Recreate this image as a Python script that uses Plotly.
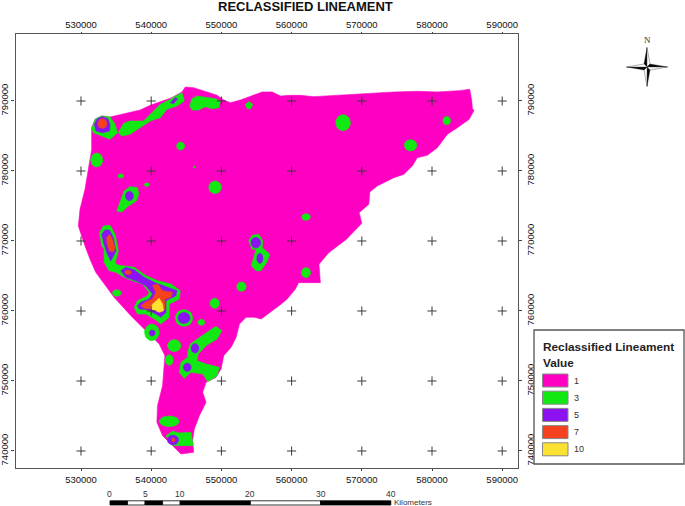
import numpy as np
import plotly.graph_objects as go

W, H = 685, 506
TITLE = "RECLASSIFIED LINEAMENT"
LEGEND_TITLE = "Reclassified Lineament"
LEGEND_SUB = "Value"
CLASS_LABELS = ["1", "3", "5", "7", "10"]
CLASS_COLORS = ["#ff00c3", "#12e812", "#8c12f2", "#f4411e", "#fde130"]
EAST_TICKS = [530000, 540000, 550000, 560000, 570000, 580000, 590000]
NORTH_TICKS = [740000, 750000, 760000, 770000, 780000, 790000]
SCALE_KM = [0, 2.5, 5, 7.5, 10, 20, 30, 40]
SCALE_LABELS = [0, 5, 10, 20, 30, 40]

# Polygons: (easting km, northing km)
OUTLINE = [(531.52,785.71),(531.52,786.19),(532.0,787.38),(532.95,787.86),(534.14,787.71),(534.86,787.86),(536.52,788.24),(538.43,788.71),(539.86,789.38),(541.29,789.86),(542.95,790.48),(544.38,791.29),(544.86,792.0),(546.05,791.9),(547.48,791.43),(549.38,790.81),(550.33,790.14),(551.29,789.76),(552.71,790.14),(554.38,790.81),(555.81,791.29),(557.24,791.29),(558.43,790.71),(559.81,790.81),(561.24,790.81),(563.14,790.62),(566.0,790.81),(568.86,791.0),(571.71,791.19),(574.57,791.29),(577.9,791.38),(580.76,791.29),(583.86,791.48),(585.38,791.67),(585.67,790.0),(585.76,788.81),(586.0,788.71),(585.29,787.38),(583.62,786.19),(582.19,785.24),(580.76,783.33),(579.33,782.24),(577.9,781.9),(577.19,780.71),(576.0,779.52),(574.57,779.05),(572.19,777.86),(571.14,777.0),(571.0,775.24),(569.62,774.05),(570.0,772.52),(567.81,770.24),(565.29,768.33),(563.9,766.67),(564.1,764.05),(561.0,764.05),(560.52,763.1),(559.33,761.67),(558.52,761.0),(555.67,758.86),(554.71,759.1),(553.52,759.1),(552.57,758.14),(552.1,756.24),(551.38,754.81),(550.33,753.62),(549.95,751.71),(549.24,750.52),(547.81,749.81),(547.33,748.38),(547.81,746.95),(546.86,745.05),(546.14,743.14),(545.9,741.48),(546.05,739.81),(544.24,739.57),(543.05,740.76),(541.62,742.19),(540.81,744.1),(540.9,746.48),(541.62,749.33),(541.95,753.62),(541.14,755.29),(539.24,757.19),(537.1,759.33),(534.71,761.95),(533.29,763.86),(532.1,765.52),(531.29,767.38),(530.57,769.29),(529.62,772.14),(529.86,774.52),(530.57,777.38),(531.05,780.24),(531.52,783.1)]

GREEN_POLYS = [
    [(531.52,786.05),(532,787.38),(532.95,787.86),(534.14,787.71),(534.86,786.67),(535.19,785.48),(534.14,784.52),(532.95,785),(531.76,785.48)],
    [(535.33,785.48),(536.05,786.81),(537,787.14),(538.9,787.14),(540.1,788.33),(541.29,789.52),(542.71,790.24),(544.38,791.19),(544.71,790),(543.67,789.29),(542.24,788.81),(541.29,787.62),(539.86,787.14),(538.43,786.19),(537,785.24),(535.81,785)],
    [(545.48,789.29),(545.81,790.33),(546.52,790.71),(547.95,790.48),(549.14,790.33),(549.86,790),(549.62,789.05),(548.67,788.9),(547.71,789.19),(546.76,788.71),(545.81,788.71)],
    [(553.43,789.52),(553.9,789.9),(554.48,789.52),(554.14,788.9),(553.67,788.9)],
    [(535.1,774.29),(535.57,775.48),(536.14,777.14),(537,777.76),(538.05,777.62),(538.24,776.67),(537.86,775.71),(536.76,775),(535.81,774.14)],
    [(532.62,771.19),(533.19,772.14),(534.14,772.24),(534.86,770.95),(535.33,768.57),(534.86,766.9),(535.19,766.57),(537.57,766.24),(539.24,765.05),(540.9,764.33),(542.81,763.86),(544.14,762.9),(544,761.71),(542.57,761),(542.57,759.1),(541.38,758.14),(540.43,758.86),(539.24,759.57),(538.05,759.57),(537.57,760.52),(538.05,761.48),(539.48,762.19),(539.71,762.67),(538.76,763.86),(537.33,764.33),(536.14,764.81),(534.95,765.52),(534,765.76),(533.29,766.95),(533.29,768.86),(532.95,769.29)],
    [(545.19,754.1),(545.57,755.29),(547.1,756.38),(549.24,757.81),(550.05,757.19),(549.38,756),(547.81,755.05),(546.71,753.86),(546.52,752.9),(547.81,752.43),(549.71,751.95),(549.38,750.76),(548.05,749.9),(547.33,751),(545.67,751.24),(544.71,750.38),(544,751.24),(544.24,752.67),(545.19,753.38)],
    [(553.9,770),(554.38,770.81),(555.33,770.95),(555.9,770),(555.81,769.05),(556.9,768.1),(556.43,766.9),(555.57,765.71),(554.95,765.76),(554.24,766.48),(554.62,767.67),(554.95,768.86),(554.38,768.81)],
    [(542.1,742.19),(543.05,742.81),(544,742.57),(545.67,742.67),(546,740.76),(544,740.76),(543.05,740.76)],
]
# Round patches: (easting km, northing km, half width km, half height km)
GREEN_PATCHES = [(544.19,783.57,.57,.57),(532.24,781.57,.86,1.0),(535.67,779.29,.43,.29),(539.38,778.05,.38,.25),(546.14,780.57,.15,.15),(549.1,777.67,.9,.9),(567.33,786.9,1.05,1.15),(582.1,787.19,.55,.6),(576.95,783.67,.9,.8),(562.05,773.43,.62,.48),(562.05,765.48,.65,.72),(535.1,762.57,.62,.48),(552.86,763.48,.67,.67),(549.05,761.1,.67,.72),(547.14,758.38,.52,.43),(543.29,755.05,.95,.86),(542.57,753,.57,.76),(542.57,744.24,1.43,.76),(544.67,759,1.24,1.19),(540.1,756.95,1.05,1.19)]

PURPLE_POLYS = [
    [(531.9,786.67),(532.33,787.48),(533.05,787.76),(533.81,787.48),(534.14,786.67),(534.05,785.71),(533.05,785.48),(532.14,785.71)],
    [(542.71,789.76),(543.43,790.48),(543.76,790.33),(543.19,789.62)],
    [(532.95,770.95),(533.43,771.57),(534.05,771.57),(534.62,770.48),(535,768.57),(534.24,767.14),(533.76,768.1),(533.29,769.52)],
    [(535.67,765.76),(536.38,766.24),(537.57,765.9),(539,764.81),(540.43,764.1),(542.57,763.38),(543.67,762.9),(543.52,762.19),(542.1,761.48),(542.1,759.81),(541.38,759.1),(540.67,759.57),(539.48,760.19),(538.29,760.29),(538.05,760.76),(538.52,761.24),(539.71,761.71),(540.19,762.43),(539.24,763.62),(537.81,764.33),(536.38,764.81)],
]
PURPLE_PATCHES = [(536.9,776.43,.57,.67),(544.67,759,.86,.8),(540.14,756.86,.43,.43),(546.24,754.67,.55,.67),(545.14,751.95,.55,.6),(554.9,769.76,.7,.76),(555.48,767.52,.45,.72),(543.1,741.57,.8,.7)]

RED_POLYS = [
    [(532.38,786.76),(532.62,787.33),(533.05,787.48),(533.52,787.33),(533.71,786.76),(533.52,786.24),(533.05,786.1),(532.57,786.24)],
    [(533.67,770.48),(534.05,770.95),(534.38,770.48),(534.86,769.05),(534.62,768.43),(534.05,768.57),(533.67,769.86)],
    [(540.19,763.62),(540.9,763.86),(541.62,762.9),(543.05,762.67),(542.81,761.95),(541.95,761.71),(541.95,760.29),(541.38,759.81),(540.43,760.29),(539,760.38),(538.52,760.76),(539.24,761.33),(540.19,761.71),(540.67,762.67)],
]
RED_PATCHES = [(536.71,765.52,.48,.29),(543.14,741.57,.25,.3)]

YELLOW_POLYS = [
    [(541.14,761.81),(541.62,761),(541.76,760.05),(541.14,759.81),(540.67,760.05),(539.95,760.29),(540.19,761),(540.67,761.48)],
]

X_RANGE = [520670, 592250]
Y_RANGE = [737570, 799570]


def fx(p):
    return p / W


def fy(p):
    return 1 - p / H


def rings(polys, patches=()):
    xs, ys = [], []
    for poly in polys:
        xs += [p[0] * 1000 for p in poly] + [poly[0][0] * 1000, None]
        ys += [p[1] * 1000 for p in poly] + [poly[0][1] * 1000, None]
    angle = np.linspace(0, 2 * np.pi, 25)
    for e, n, rx, ry in patches:
        xs += list((e + rx * np.cos(angle)) * 1000) + [None]
        ys += list((n + ry * np.sin(angle)) * 1000) + [None]
    return xs, ys


fig = go.Figure()
layers = [([OUTLINE], ()), (GREEN_POLYS, GREEN_PATCHES), (PURPLE_POLYS, PURPLE_PATCHES), (RED_POLYS, RED_PATCHES), (YELLOW_POLYS, ())]
for (polys, patches), color, label in zip(layers, CLASS_COLORS, CLASS_LABELS):
    xs, ys = rings(polys, patches)
    fig.add_trace(go.Scatter(x=xs, y=ys, mode="lines", fill="toself", fillcolor=color, line=dict(width=0.6, color=color),
                             name=label, showlegend=False, hoverinfo="skip"))

gx, gy = np.meshgrid(EAST_TICKS, NORTH_TICKS)
fig.add_trace(go.Scatter(x=gx.ravel(), y=gy.ravel(), xaxis="x2", yaxis="y2", mode="markers", showlegend=False, hoverinfo="skip",
                         marker=dict(symbol="cross-thin", size=6.5, line=dict(width=1, color="#3a3a3a"), color="#3a3a3a")))

tick_font = dict(family="Liberation Sans", size=9.5, color="#111111")
axis_common = dict(showgrid=False, zeroline=False, showline=True, linecolor="#555555", linewidth=1.3,
                   ticks="outside", tickcolor="#444444", tickfont=tick_font, tickformat="d")
dom_x = [fx(15.5), fx(518)]
dom_y = [fy(468), fy(34)]

shapes, ann = [], []


def rect(x0, y0, x1, y1, fill, line="#888888", lw=1):
    shapes.append(dict(type="rect", xref="paper", yref="paper", x0=fx(x0), x1=fx(x1), y0=fy(y0), y1=fy(y1),
                       fillcolor=fill, line=dict(color=line, width=lw)))


def text(x, y, s, size, bold=False, anchor="left", color="#222222"):
    ann.append(dict(xref="paper", yref="paper", x=fx(x), y=fy(y), text=f"<b>{s}</b>" if bold else s, showarrow=False,
                    xanchor=anchor, yanchor="middle", font=dict(family="Liberation Sans", size=size, color=color)))


# legend panel
rect(534, 330, 684, 464, "white", "#555555", 1.3)
text(541, 347, LEGEND_TITLE, 11.8, True)
text(541, 363, LEGEND_SUB, 11.8, True)
for i, (lab, col) in enumerate(zip(CLASS_LABELS, CLASS_COLORS)):
    top = 374 + i * 17.2
    rect(542.5, top, 568, top + 13, col)
    text(572, top + 6.5, lab, 9, False, color="#333333")

# scale bar, placed in map units along the horizontal axis
SCALE_ORIGIN_E = 534130
for i in range(len(SCALE_KM) - 1):
    shapes.append(dict(type="rect", xref="x", yref="paper", x0=SCALE_ORIGIN_E + SCALE_KM[i] * 1000, x1=SCALE_ORIGIN_E + SCALE_KM[i + 1] * 1000,
                       y0=fy(505), y1=fy(500.8), fillcolor="#000000" if i % 2 == 0 else "#ffffff", line=dict(color="#000000", width=0.8)))
for km in SCALE_LABELS:
    ann.append(dict(xref="x", yref="paper", x=SCALE_ORIGIN_E + km * 1000, y=fy(493.5), text=str(km), showarrow=False, xanchor="center", yanchor="middle",
                    font=dict(family="Liberation Sans", size=8.5, color="#333333")))
text(391.5, 502, "Kilometers", 8, False, color="#333333")

# north arrow
CX, CY = 647, 67
ARM_V, ARM_H, WAIST = 19.5, 20.5, 3
arms = [((0, -ARM_V), (-WAIST, -WAIST), (WAIST, -WAIST)),
        ((ARM_H, 0), (WAIST, -WAIST), (WAIST, WAIST)),
        ((0, ARM_V), (WAIST, WAIST), (-WAIST, WAIST)),
        ((-ARM_H, 0), (-WAIST, WAIST), (-WAIST, -WAIST))]
for tip, dark, light in arms:
    for side, col in ((dark, "#000000"), (light, "#ffffff")):
        path = f"M {fx(CX)} {fy(CY)} L {fx(CX + tip[0])} {fy(CY + tip[1])} L {fx(CX + side[0])} {fy(CY + side[1])} Z"
        shapes.append(dict(type="path", xref="paper", yref="paper", path=path, fillcolor=col, line=dict(color="#333333", width=0.4)))
ann.append(dict(xref="paper", yref="paper", x=fx(647), y=fy(40), text="N", showarrow=False, xanchor="center", yanchor="middle",
                font=dict(family="Liberation Serif", size=9, color="#333333")))

text(305, 6, TITLE, 13, True, "center", "#111111")

fig.update_layout(
    width=W, height=H, margin=dict(l=0, r=0, t=0, b=0), paper_bgcolor="white", plot_bgcolor="white",
    xaxis=dict(domain=dom_x, range=X_RANGE, side="bottom", anchor="y", tickvals=EAST_TICKS, ticklen=2, **axis_common),
    xaxis2=dict(domain=dom_x, range=X_RANGE, side="top", anchor="y2", overlaying="x", tickvals=EAST_TICKS, ticklen=1, **axis_common),
    yaxis=dict(domain=dom_y, range=Y_RANGE, side="left", anchor="x", tickvals=NORTH_TICKS, tickangle=-90, ticklen=3, **axis_common),
    yaxis2=dict(domain=dom_y, range=Y_RANGE, side="right", anchor="x2", overlaying="y", tickvals=NORTH_TICKS, tickangle=-90, ticklen=3, **axis_common),
    shapes=shapes, annotations=ann, showlegend=False,
)
fig.write_html("out.html", config=dict(displayModeBar=False), post_script="document.body.style.margin='0';")
